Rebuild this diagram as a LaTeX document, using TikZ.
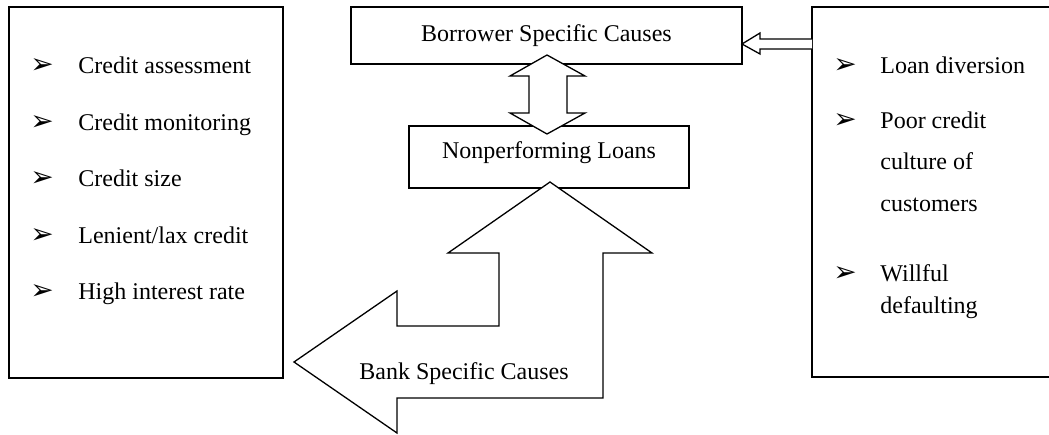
\documentclass[tikz,border=0pt]{standalone}
\usepackage{fontspec}
\setmainfont{Liberation Serif}
\newfontfamily\dingfont{DejaVu Sans}
\usetikzlibrary{positioning}
\newcommand{\bul}{{\dingfont\fontsize{14pt}{14pt}\selectfont ➢}}

\begin{document}
\begin{tikzpicture}[x=0.5pt, y=-0.5pt,
      box/.style={draw, line width=0.65pt, fill=white, inner sep=0pt,
                  font=\fontsize{12pt}{14pt}\selectfont},
      item/.style={anchor=base west, inner sep=0pt, font=\fontsize{12pt}{14pt}\selectfont},
      blk/.style={draw, line width=0.65pt, fill=white, line join=miter}]
    \useasboundingbox (0,0) rectangle (1049,434);

    % the two list boxes
    \node[box, minimum width=137pt, minimum height=185.5pt] (banklist) at (146,192.5) {};
    \node[box, minimum width=120pt, minimum height=185pt] (borrlist) at (932,192) {};

    \node[item] (b1) at (30,73) {\bul};   \node[item] (t1) at (78,73) {Credit assessment};
    \node[item] (b2) at (30,130) {\bul};  \node[item] (t2) at (78,130) {Credit monitoring};
    \node[item] (b3) at (30,186) {\bul};  \node[item] (t3) at (78,186) {Credit size};
    \node[item] (b4) at (30,243) {\bul};  \node[item] (t4) at (78,243) {Lenient/lax credit};
    \node[item] (b5) at (30,299) {\bul};  \node[item] (t5) at (78,299) {High interest rate};

    \node[item] (r1) at (833,73) {\bul};  \node[item] (s1) at (880,73) {Loan diversion};
    \node[item] (r2) at (833,128) {\bul}; \node[item] (s2) at (880,128) {Poor credit};
    \node[item] (s3) at (880,169) {culture of};
    \node[item] (s4) at (880,211) {customers};
    \node[item] (r3) at (833,281) {\bul}; \node[item] (s5) at (880,281) {Willful};
    \node[item] (s6) at (880,313) {defaulting};

    % centre boxes
    \node[box, minimum width=195.5pt, minimum height=28.5pt, text height=9pt, text depth=3.5pt]
      (borrower) at (546.5,35.5) {Borrower Specific Causes};
    \node[box, minimum width=140pt, minimum height=31pt, text height=9pt, text depth=8pt]
      (npl) at (549,157) {Nonperforming Loans};

    % block arrows
    \draw[blk] (812,39) -- (760,39) -- (760,33) -- (742,44) -- (760,54) -- (760,49) -- (812,49);
    \draw[blk] (547,55) -- (585,76) -- (567,76) -- (567,113) -- (585,113) -- (547,134)
      -- (510,113) -- (529,113) -- (529,76) -- (510,76) -- cycle;
    \draw[blk] (550,182) -- (652,253) -- (603,253) -- (603,398) -- (397,398) -- (397,433)
      -- (294,362) -- (397,291) -- (397,326) -- (499,326) -- (499,253) -- (448,253) -- cycle;

    \node[anchor=base, inner sep=0pt, font=\fontsize{12pt}{14pt}\selectfont]
      (bank) at (464,379) {Bank Specific Causes};
  \end{tikzpicture}
\end{document}
